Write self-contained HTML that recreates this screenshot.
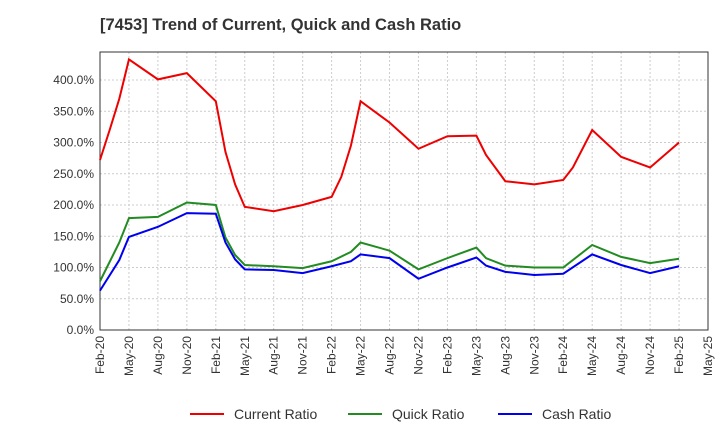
<!DOCTYPE html>
<html><head><meta charset="utf-8"><style>
body{margin:0;background:#fff;font-family:"Liberation Sans",sans-serif}
</style></head><body>
<svg id="c" width="720" height="440" xmlns="http://www.w3.org/2000/svg">
<text x="100" y="30" font-size="16.5" font-weight="bold" fill="#333">[7453]  Trend of Current, Quick and Cash Ratio</text>
</svg>
<script>
const tickLabels=["Feb-20","May-20","Aug-20","Nov-20","Feb-21","May-21","Aug-21","Nov-21","Feb-22","May-22","Aug-22","Nov-22","Feb-23","May-23","Aug-23","Nov-23","Feb-24","May-24","Aug-24","Nov-24","Feb-25","May-25"];
const yTicks=[0,50,100,150,200,250,300,350,400];
const currentMonths=[0,1,2,3,6,9,12,13,14,15,18,21,24,25,26,27,30,33,36,39,40,42,45,48,49,51,54,57,60];
const currentVals=[272,320,370,433,401,411,366,285,233,197,190,200,213,245,295,366,332,290,310,311,280,238,233,240,260,320,277,260,300];
const quickMonths=[0,2,3,6,9,12,13,14,15,18,21,24,26,27,30,33,36,39,40,42,45,48,51,54,57,60];
const quickVals=[78,140,179,181,204,200,148,120,104,102,99,110,125,140,127,97,115,132,115,103,100,100,136,117,107,114];
const cashMonths=[0,2,3,6,9,12,13,14,15,18,21,24,26,27,30,33,36,39,40,42,45,48,51,54,57,60];
const cashVals=[63,112,149,165,187,186,140,113,97,96,91,102,110,121,115,82,100,116,103,93,88,90,121,104,91,102];
const NS="http://www.w3.org/2000/svg",svg=document.getElementById('c');
const x0=100,x1=708,y0=330,yTop=52;
const xs=m=>x0+m*(x1-x0)/63;
const ys=v=>y0-v*(250/400);
function mk(t,a){const e=document.createElementNS(NS,t);for(const k in a)e.setAttribute(k,a[k]);svg.appendChild(e);return e;}
yTicks.forEach(v=>{
 const g=mk('line',{x1:x0,x2:x1,y1:ys(v),y2:ys(v),stroke:'#ccc','stroke-dasharray':'2,2'});
 
 
 const t=mk('text',{x:x0-6,y:ys(v)+4,'font-size':12,'text-anchor':'end',fill:'#333'});
 
 
 t.textContent=v.toFixed(1)+'%';
});
tickLabels.forEach((l,i)=>{
 const x=xs(i*3);
 const g=mk('line',{x1:x,x2:x,y1:yTop,y2:y0,stroke:'#ccc','stroke-dasharray':'2,2'});
 
 
 const t=mk('text',{x:x+4,y:y0+6,'font-size':12,'text-anchor':'end',fill:'#333',transform:`rotate(-90 ${x+4} ${y0+6})`});
 
 
 t.textContent=l;
});
const ax=mk('rect',{x:x0,y:yTop,width:x1-x0,height:y0-yTop,fill:'none',stroke:'#333'});


function series(ms,vs,col,name){
 const p=mk('polyline',{points:ms.map((m,i)=>xs(m)+','+ys(vs[i])).join(' '),fill:'none',stroke:col,'stroke-width':2});
 
 
}
series(currentMonths,currentVals,'#e00','current-ratio-line');
series(quickMonths,quickVals,'#228b22','quick-ratio-line');
series(cashMonths,cashVals,'#00e','cash-ratio-line');
[['Current Ratio','#e00',190],['Quick Ratio','#228b22',348],['Cash Ratio','#00e',498]].forEach(([n,c,x])=>{
 const l=mk('line',{x1:x,x2:x+34,y1:414,y2:414,stroke:c,'stroke-width':2});
 
 
 const t=mk('text',{x:x+44,y:419,'font-size':14,fill:'#333'});
 
 
 t.textContent=n;
});
</script>
</body></html>
